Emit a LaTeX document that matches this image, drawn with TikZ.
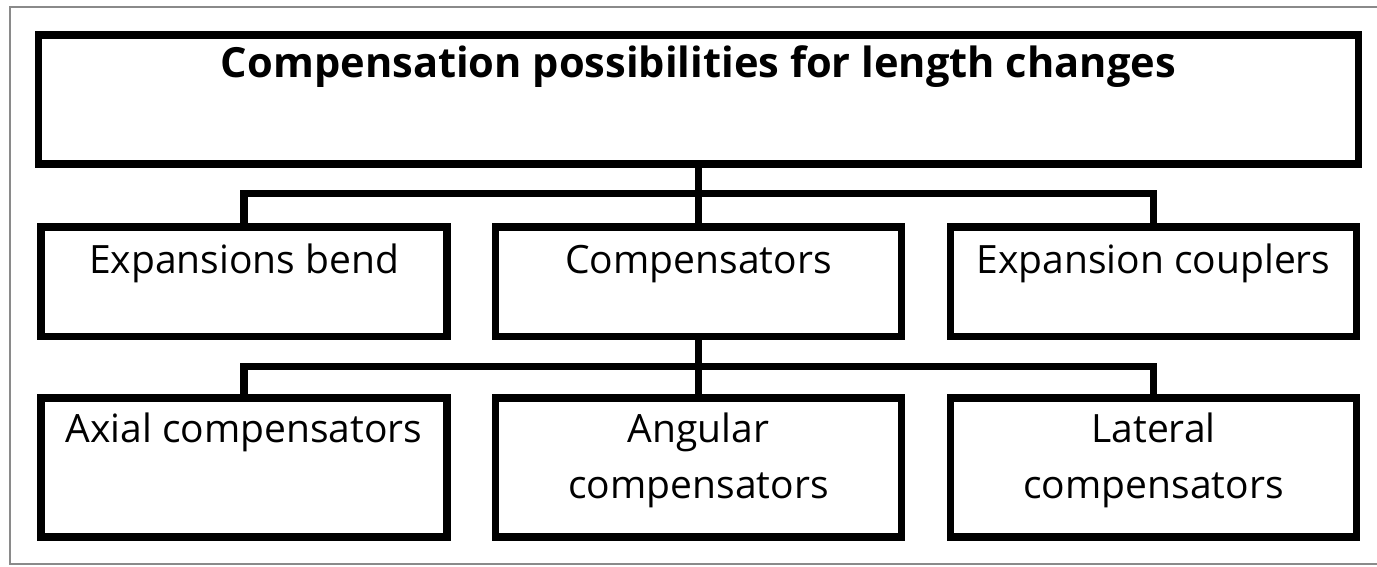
\documentclass[tikz,border=0pt]{standalone}
\usepackage{fontspec}
\setmainfont{Open Sans}
\usetikzlibrary{positioning}
\definecolor{frameGray}{HTML}{8A8A8A}
\newcommand{\topText}[4]{\parbox[c][#1][t]{#2}{\centering\rule{0pt}{#3}\ignorespaces#4}}
\tikzset{
  every node/.style={font=\fontsize{19.5}{28}\selectfont},
  box/.style={draw, line width=3.75pt, inner sep=0pt, minimum width=203pt},
  title/.style={font=\fontsize{20.8}{24}\selectfont\bfseries},
  link/.style={line width=3.75pt},
  pageFrame/.style={draw=frameGray, line width=1pt},
}

\begin{document}
\begin{tikzpicture}[x=0.5pt, y=-0.5pt]
\useasboundingbox (0,0) rectangle (1377,567);

% ------------------------------------------------------------- the frame
\draw[pageFrame] (1377,7) -- (10,7) -- (10,564) -- (1377,564);

% ------------------------------------------------------------- the title
\node[box, title, minimum width=660pt, minimum height=64.5pt] (title)
  at (698.5,99.5)
  {\topText{64.5pt}{640pt}{21.5pt}{Compensation possibilities for length changes}};

% ---------------------------------------------------------- the first row
\node[box, minimum height=54.75pt] (bend) at (244,281.75)
  {\topText{54.75pt}{195pt}{23pt}{Expansions bend}};
\node[box, minimum height=54.75pt] (comp) at (698.5,281.75)
  {\topText{54.75pt}{195pt}{23pt}{Compensators}};
\node[box, minimum height=54.75pt] (coupl) at (1153.5,281.75)
  {\topText{54.75pt}{195pt}{23pt}{Expansion couplers}};

% --------------------------------------------------------- the second row
\node[box, minimum height=69.5pt] (axial) at (244,467.5)
  {\topText{69.5pt}{195pt}{22pt}{Axial compensators}};
\node[box, minimum height=69.5pt] (angular) at (698.5,467.5)
  {\topText{69.5pt}{195pt}{22pt}{Angular\\compensators}};
\node[box, minimum height=69.5pt] (lateral) at (1153.5,467.5)
  {\topText{69.5pt}{195pt}{22pt}{Lateral\\compensators}};

% -------------------------------------------------------------- the links
\coordinate (forkA) at (698.5,193.5);
\draw[link] (title.south) -- (forkA);
\draw[link] (bend.north) |- (forkA) -| (coupl.north);
\draw[link] (forkA) -- (comp.north);

\coordinate (forkB) at (698.5,366.5);
\draw[link] (comp.south) -- (forkB);
\draw[link] (axial.north) |- (forkB) -| (lateral.north);
\draw[link] (forkB) -- (angular.north);

\end{tikzpicture}
\end{document}
